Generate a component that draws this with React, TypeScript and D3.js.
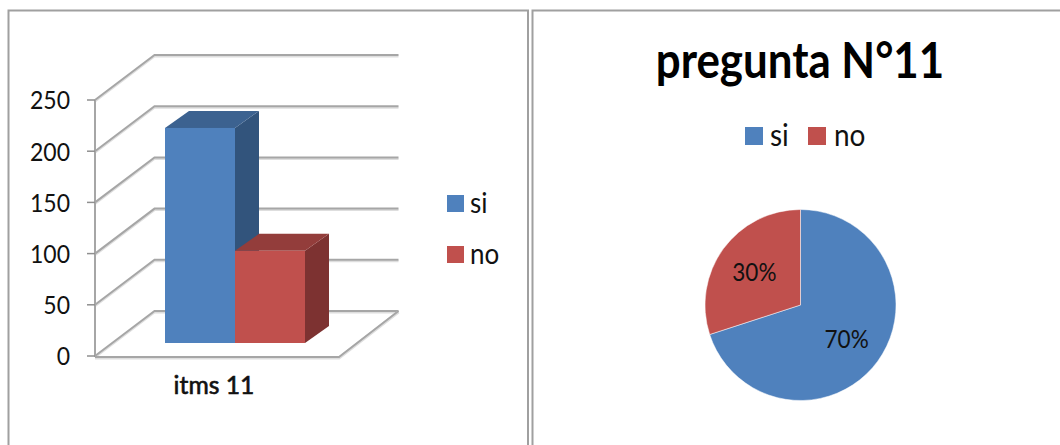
import * as d3 from "d3";

// Survey answers for question 11
const categories = ["si", "no"];
const counts = [210, 90];
const axisTicks = [0, 50, 100, 150, 200, 250];
const pieShares = [70, 30];
const faceColors = ["#4f81bd", "#c0504d"];
const topColors = ["#3c6290", "#933d3b"];
const sideColors = ["#32547c", "#7d3231"];

const FONT = "Lato, 'Open Sans', sans-serif";
const GRID = "#a6a6a6";
const GRID_SOFT = "#dedede";

// Oblique projection used by the 3D column panel
const depthX = 59.5;
const depthY = 45;
const wallFront = 95;
const wallFrontRight = 339;
const y = d3.scaleLinear().domain([0, 250]).range([356, 100]);
const barBand = d3.scaleBand().domain(categories).range([165, 305]).padding(0);
const barBase = 343;
const barDepthX = 24;
const barDepthY = 17;

const pieCx = 800.5;
const pieCy = 305;
const pieR = 95.5;
const pieLayout = d3.pie<number>().sort(null).value((d) => d);
const sliceArc = d3.arc<d3.PieArcDatum<number>>().innerRadius(0).outerRadius(pieR);
const labelArc = d3.arc<d3.PieArcDatum<number>>().innerRadius(57).outerRadius(57);

const poly = (pts: [number, number][]) => pts.map((p) => p.join(",")).join(" ");

// Text stretched about its anchor point, giving the tall narrow look of the labels
function Label(props: {
  x: number;
  y: number;
  size: number;
  sx?: number;
  sy?: number;
  anchor?: "start" | "middle" | "end";
  weight?: number;
  fill?: string;
  outline?: number;
  children: React.ReactNode;
}) {
  const { x, y: ly, size, sx = 1, sy = 1.13, anchor = "start", weight = 400, fill = "#111", outline = 0, children } = props;
  return (
    <text
      transform={`translate(${x},${ly}) scale(${sx},${sy})`}
      dy="0.36em"
      fontSize={size}
      fontWeight={weight}
      textAnchor={anchor}
      fill={fill}
      stroke={outline ? fill : "none"}
      strokeWidth={outline}
    >
      {children}
    </text>
  );
}

function ColumnPanel() {
  const y0 = y(0);
  return (
    <g fontFamily={FONT} fill="#000">
      <path d="M8.5,445 V10.5 H528 V445" fill="none" stroke="#a0a0a0" strokeWidth={2} />

      {/* back wall gridlines, each with a soft lower edge */}
      {axisTicks.map((t) => {
        const v = y(t);
        const d = `M${wallFront},${v} L${wallFront + depthX},${v - depthY} H${wallFront + depthX + 244}`;
        return (
          <g key={t} fill="none">
            <path d={d} transform="translate(0,1.5)" stroke={GRID_SOFT} strokeWidth={2} />
            <path d={d} stroke={GRID} strokeWidth={2} />
          </g>
        );
      })}

      {/* floor outline and value axis */}
      <g fill="none">
        <path
          d={`M${wallFront},${y0 + 1} H${wallFrontRight} L${wallFrontRight + depthX},${y0 - depthY}`}
          stroke={GRID_SOFT}
          strokeWidth={3}
          transform="translate(0,1)"
        />
        <path
          d={`M${wallFront},${y0 + 1} H${wallFrontRight} L${wallFrontRight + depthX},${y0 - depthY}`}
          stroke={GRID}
          strokeWidth={2}
        />
        <line x1={wallFront} x2={wallFront} y1={y(250)} y2={y0 + 1} stroke={GRID} strokeWidth={2} />
      </g>
      {axisTicks.map((t) => (
        <g key={t}>
          <line x1={87} x2={wallFront} y1={y(t)} y2={y(t)} stroke="#8f8f8f" strokeWidth={1.5} />
          <Label x={70} y={y(t)} size={23} anchor="end">
            {t}
          </Label>
        </g>
      ))}

      {/* 3D columns, one per answer */}
      {categories.map((c, i) => {
        const x0 = barBand(c)!;
        const x1 = x0 + barBand.bandwidth();
        const h = y(0) - y(counts[i]);
        const top = barBase - h;
        return (
          <g key={c}>
            <polygon
              points={poly([
                [x1, top],
                [x1 + barDepthX, top - barDepthY],
                [x1 + barDepthX, barBase - barDepthY],
                [x1, barBase],
              ])}
              fill={sideColors[i]}
            />
            <polygon
              points={poly([
                [x0, top],
                [x0 + barDepthX, top - barDepthY],
                [x1 + barDepthX, top - barDepthY],
                [x1, top],
              ])}
              fill={topColors[i]}
            />
            <rect x={x0} y={top} width={x1 - x0} height={h} fill={faceColors[i]} />
          </g>
        );
      })}

      <Label x={214} y={385} size={24} sx={1.03} sy={1.04} outline={0.6} anchor="middle">
        itms 11
      </Label>

      {categories.map((c, i) => (
        <g key={c}>
          <rect x={447} y={195 + i * 51} width={17} height={17} fill={faceColors[i]} />
          <Label x={470} y={202 + i * 51} size={26}>
            {c}
          </Label>
        </g>
      ))}
    </g>
  );
}

function PiePanel() {
  const arcs = pieLayout(pieShares);
  const legendSwatch = [745, 808];
  const legendText = [770, 834];
  return (
    <g fontFamily={FONT} fill="#000">
      <path d="M1060,10.5 H532.5 V445" fill="none" stroke="#a0a0a0" strokeWidth={2} />
      <Label x={800} y={60} size={43} sx={1.02} sy={1.14} weight={700} anchor="middle" fill="#000">
        pregunta N°11
      </Label>

      {categories.map((c, i) => (
        <g key={c}>
          <rect x={legendSwatch[i]} y={127} width={18} height={18} fill={faceColors[i]} />
          <Label x={legendText[i]} y={135} size={28}>
            {c}
          </Label>
        </g>
      ))}

      <g transform={`translate(${pieCx},${pieCy})`}>
        {arcs.map((a, i) => (
          <path key={i} d={sliceArc(a)!} fill={faceColors[i]} stroke="#fff" strokeWidth={0.5} />
        ))}
        {arcs.map((a, i) => {
          const [lx, ly] = labelArc.centroid(a);
          return (
            <Label key={i} x={lx} y={ly} size={23} sx={0.98} anchor="middle">
              {pieShares[i]}%
            </Label>
          );
        })}
      </g>
    </g>
  );
}

export default function App() {
  return (
    <svg
      width={1060}
      height={445}
      viewBox="0 0 1060 445"
      style={{ position: "fixed", left: 0, top: 0, background: "#fff", display: "block" }}
    >
      <rect width={1060} height={445} fill="#fff" />
      <ColumnPanel />
      <PiePanel />
    </svg>
  );
}
